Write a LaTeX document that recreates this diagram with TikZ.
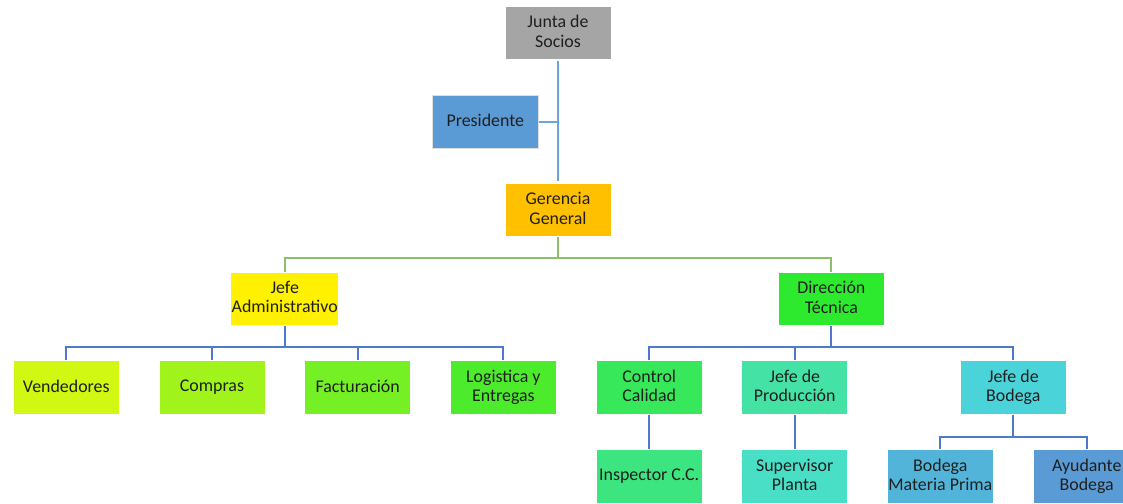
\documentclass[tikz,border=0pt]{standalone}
\usepackage{fontspec}
\setmainfont{Carlito}
\usepackage{tikz}
\usetikzlibrary{positioning}

\definecolor{cJunta}{HTML}{A5A5A5}
\definecolor{cPres}{HTML}{5B9BD5}
\definecolor{cGer}{HTML}{FFC000}
\definecolor{cJAdm}{HTML}{FFF100}
\definecolor{cVend}{HTML}{D0F812}
\definecolor{cComp}{HTML}{A0F41C}
\definecolor{cFact}{HTML}{74F024}
\definecolor{cLogi}{HTML}{4CEB2B}
\definecolor{cDTec}{HTML}{2EEA2E}
\definecolor{cCtrl}{HTML}{36E85A}
\definecolor{cInsp}{HTML}{3DE580}
\definecolor{cProd}{HTML}{44E2A4}
\definecolor{cSup}{HTML}{48DFC6}
\definecolor{cJBod}{HTML}{4BD3DA}
\definecolor{cBMP}{HTML}{53B4DA}
\definecolor{cAyu}{HTML}{5B9BD5}
\definecolor{lTop}{HTML}{6DA5DA}
\definecolor{lGreen}{HTML}{8CBF6A}
\definecolor{lBlue}{HTML}{4F7ACB}

\begin{document}
\begin{tikzpicture}[x=1pt,y=-1pt,node distance=145.7pt,on grid,
    box/.style={rectangle, draw=white, line width=0.7pt, minimum width=106pt,
      minimum height=53.5pt, inner sep=1pt, align=center, text=black!88,
      text depth=3pt, font=\fontsize{17.9}{19.3}\selectfont},
    topline/.style={draw=lTop, line width=2pt},
    greenline/.style={draw=lGreen, line width=2pt},
    blueline/.style={draw=lBlue, line width=2pt}]
\useasboundingbox (0,0) rectangle (1123,503);

% top of the chart
\node [box, fill=cJunta] (junta) at (558,32.7) {Junta de\\Socios};
\node [box, fill=cPres, draw=black!12] [below left=89pt and 72.7pt of junta] (pres) {Presidente};
\node [box, fill=cGer] [below=177pt of junta] (ger) {Gerencia\\General};

% second level
\node [box, fill=cJAdm] [below left=89pt and 273.3pt of ger] (jadm) {Jefe\\Administrativo};
\node [box, fill=cDTec] [below right=89pt and 273.3pt of ger] (dtec) {Dirección\\Técnica};

% under Jefe Administrativo
\node [box, fill=cVend] [below left=88.8pt and 218.4pt of jadm] (vend) {Vendedores};
\node [box, fill=cComp] [right=of vend] (comp) {Compras};
\node [box, fill=cFact] [right=of comp] (fact) {Facturación};
\node [box, fill=cLogi] [right=of fact] (logi) {Logistica y\\Entregas};

% under Direccion Tecnica
\node [box, fill=cCtrl] [below left=88.8pt and 182.1pt of dtec] (ctrl) {Control\\Calidad};
\node [box, fill=cProd] [right=145.5pt of ctrl] (prod) {Jefe de\\Producción};
\node [box, fill=cJBod] [right=218.6pt of prod] (jbod) {Jefe de\\Bodega};
\node [box, fill=cInsp] [below=89pt of ctrl] (insp) {Inspector C.C.};
\node [box, fill=cSup] [below=89pt of prod] (sup) {Supervisor\\Planta};
\node [box, fill=cBMP] [below left=89pt and 73pt of jbod] (bmp) {Bodega\\Materia Prima};
\node [box, fill=cAyu] [below right=89pt and 73.4pt of jbod] (ayu) {Ayudante\\Bodega};

% connectors
\draw [topline, shorten <=1.5pt, shorten >=2pt] (junta.south) -- (ger.north);
\draw [topline] (pres.east) -- (pres.east -| junta.south);
\foreach \n in {jadm,dtec}
  \draw [greenline] (ger.south) -- ++(0,21) -| (\n.north);
\foreach \n in {vend,comp,fact,logi}
  \draw [blueline] (jadm.south) -- ++(0,21) -| (\n.north);
\foreach \n in {ctrl,prod,jbod}
  \draw [blueline] (dtec.south) -- ++(0,21) -| (\n.north);
\draw [blueline] (ctrl) -- (insp);
\draw [blueline] (prod) -- (sup);
\foreach \n in {bmp,ayu}
  \draw [blueline] (jbod.south) -- ++(0,22) -| (\n.north);
\end{tikzpicture}
\end{document}
